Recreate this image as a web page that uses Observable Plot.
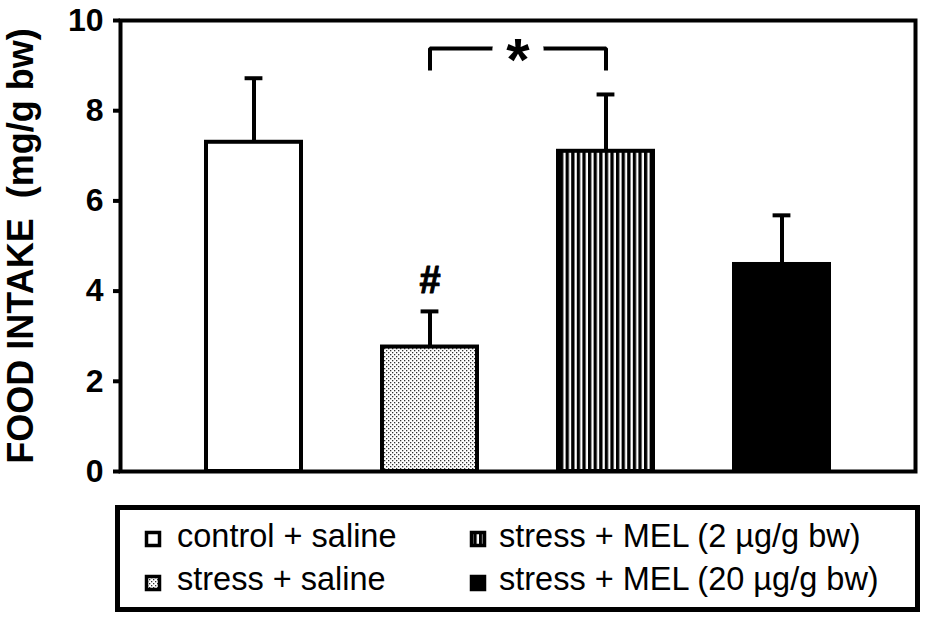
<!DOCTYPE html>
<html><head><meta charset="utf-8">
<script src="https://cdn.jsdelivr.net/npm/d3@7"></script>
<script src="https://cdn.jsdelivr.net/npm/@observablehq/plot@0.6"></script>
<style>
body{margin:0;background:#fff;font-family:"Liberation Sans",Arial,sans-serif;}
#chart{position:absolute;left:0;top:0;}
#legend{position:absolute;left:115px;top:505px;}
#chart g[aria-label="y-axis tick label"] text{font-size:32px;font-weight:bold;}
.ylab text{white-space:pre;}
</style></head><body>
<svg width="0" height="0" style="position:absolute">
<defs>
<pattern id="dots" patternUnits="userSpaceOnUse" width="4" height="4">
<rect width="4" height="4" fill="white"/>
<rect x="0" y="0" width="1.3" height="1.3" fill="#333"/>
<rect x="2" y="2" width="1.3" height="1.3" fill="#333"/>
</pattern>
<pattern id="stripes" patternUnits="userSpaceOnUse" width="5.6" height="10">
<rect width="5.6" height="10" fill="white"/>
<rect width="3.3" height="10" fill="black"/>
</pattern>
</defs></svg>
<div id="chart"></div>
<div id="legend"></div>
<script>
// ---- data ----
const groups = ["control + saline", "stress + saline", "stress + MEL (2 µg/g bw)", "stress + MEL (20 µg/g bw)"];
const means = [7.30, 2.76, 7.10, 4.59];
const sems = [1.42, 0.79, 1.26, 1.09];
const yTicks = [0, 2, 4, 6, 8, 10];
const yLabel = "FOOD INTAKE  (mg/g bw)";
const sigPair = [groups[1], groups[2]];
const sigLabel = "*";
const sigLevel = 9.38;
const sigDrop = 0.49;
const hashGroup = groups[1];
const hashLabel = "#";

// ---- styles ----
const fills = {
  [groups[0]]: "white",
  [groups[1]]: "url(#dots)",
  [groups[2]]: "url(#stripes)",
  [groups[3]]: "black"
};

const data = groups.map((g, i) => ({group: g, mean: means[i], sem: sems[i], top: means[i] + sems[i]}));
const bracket = [
  {x: sigPair[0], y: sigLevel - sigDrop},
  {x: sigPair[0], y: sigLevel},
  {x: sigPair[1], y: sigLevel},
  {x: sigPair[1], y: sigLevel - sigDrop}
];
const hashDatum = data.filter(d => d.group === hashGroup);

const bw = 176.25 * 0.54;
const capW = 18;
const capInset = (bw - capW) / 2;

const chart = Plot.plot({
  width: 928, height: 500,
  marginLeft: 120, marginRight: 13, marginTop: 20, marginBottom: 29,
  style: {fontFamily: '"Liberation Sans", Arial, sans-serif', background: "white"},
  x: {domain: groups, range: [165, 870], paddingInner: 0.46, paddingOuter: 0.23, axis: null},
  y: {domain: [0, 10], axis: null},
  color: {type: "identity"},
  marks: [
    Plot.ruleX(data, {x: "group", y1: "mean", y2: "top", stroke: "black", strokeWidth: 4}),
    Plot.tickY(data, {x: "group", y: "top", stroke: "black", strokeWidth: 4, insetLeft: capInset, insetRight: capInset}),
    Plot.barY(data, {x: "group", y: "mean", fill: d => fills[d.group], stroke: "black", strokeWidth: 4}),
    Plot.line(bracket, {x: "x", y: "y", stroke: "black", strokeWidth: 4, strokeLinejoin: "miter", strokeLinecap: "butt"}),
    Plot.text([sigLabel], {x: () => sigPair[0], y: () => sigLevel, text: d => d, dx: 88, dy: 12, fontSize: 60, fontWeight: "bold", fill: "black", stroke: "white", strokeWidth: 28, paintOrder: "stroke"}),
    Plot.text(hashDatum, {x: "group", y: "top", text: () => hashLabel, dy: -31, fontSize: 38, fontWeight: 900, fill: "black", stroke: "black", strokeWidth: 1}),
    Plot.frame({stroke: "black", strokeWidth: 4}),
    Plot.axisY({ticks: yTicks, tickSize: 7, tickPadding: 10, tickFormat: d => d, label: null, strokeWidth: 4, fontSize: 32, fontWeight: "bold", fill: "black"}),
    Plot.text([yLabel], {frameAnchor: "left", dx: -99.5, rotate: -90, textAnchor: "middle", text: d => d, fontSize: 36, fontWeight: "bold", fill: "black", className: "ylab"})
  ]
});
document.getElementById("chart").appendChild(chart);

// ---- legend ----
const lw = 805, lh = 107;
const leg = d3.select("#legend").append("svg").attr("width", lw).attr("height", lh)
  .style("font-family", '"Liberation Sans", Arial, sans-serif');
leg.append("rect").attr("x", 2.5).attr("y", 2.5).attr("width", lw - 5).attr("height", lh - 5)
  .attr("fill", "white").attr("stroke", "black").attr("stroke-width", 5);
const cols = [{sw: 30, tx: 62}, {sw: 355, tx: 384}];
const rows = [{sy: 26, base: 42}, {sy: 70, base: 85}];
const order = [[0, 0], [1, 0], [0, 1], [1, 1]]; // [row, col] for each group
groups.forEach((g, i) => {
  const [r, c] = order[i];
  leg.append("rect").attr("x", cols[c].sw + 1.5).attr("y", rows[r].sy + 1.5).attr("width", 13).attr("height", 13)
    .attr("fill", fills[g]).attr("stroke", "black").attr("stroke-width", 3.5);
  leg.append("text").attr("x", cols[c].tx).attr("y", rows[r].base).attr("font-size", 32.5).attr("fill", "black").text(g);
});
</script>
</body></html>
